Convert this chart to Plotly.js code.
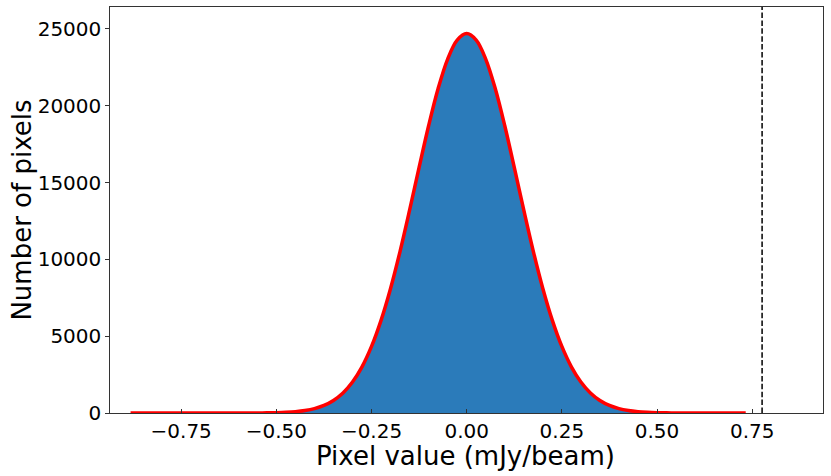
<!DOCTYPE html>
<html>
<head>
<meta charset="utf-8">
<script src="https://cdn.plot.ly/plotly-3.0.1.min.js"></script>
<style>html,body{margin:0;padding:0;background:#fff;}#chart{width:831px;height:476px;}</style>
</head>
<body>
<div id="chart"></div>
<script>
// Histogram of pixel values (bin centres, mJy/beam) and counts
const histX = [-0.6,-0.575,-0.55,-0.525,-0.5,-0.475,-0.45,-0.425,-0.4,-0.375,-0.35,-0.325,-0.3,-0.275,-0.25,-0.225,-0.2,-0.175,-0.15,-0.125,-0.1,-0.075,-0.05,-0.025,0,
  0.025,0.05,0.075,0.1,0.125,0.15,0.175,0.2,0.225,0.25,0.275,0.3,0.325,0.35,0.375,0.4,0.425,0.45,0.475,0.5,0.525,0.55,0.575,0.6];
const histCounts = [1,2,5,11,22,45,86,160,284,488,810,1298,2008,2998,4325,6025,8100,10515,13195,15980,18690,21110,23035,24265,24700,
  24270,23030,21115,18695,15985,13200,10520,8105,6030,4330,3004,2012,1300,812,490,285,160,87,45,22,11,5,2,1];

// Gaussian fit curve (red)
const fitX = [-0.883,-0.8,-0.7,-0.65,-0.6,-0.575,-0.55,-0.525,-0.5,-0.475,-0.45,-0.425,-0.4,-0.375,-0.35,-0.325,-0.3,-0.275,-0.25,-0.225,-0.2,-0.175,-0.15,-0.125,-0.1,-0.075,-0.05,-0.025,0,
  0.025,0.05,0.075,0.1,0.125,0.15,0.175,0.2,0.225,0.25,0.275,0.3,0.325,0.35,0.375,0.4,0.425,0.45,0.475,0.5,0.525,0.55,0.575,0.6,0.65,0.7,0.733];
const fitY = [0,0,0,0,1,2,5,11,23,46,88,162,287,492,815,1304,2015,3006,4333,6032,8109,10527,13203,15986,18698,21119,23040,24273,24700,
  24273,23040,21119,18698,15986,13203,10527,8109,6032,4333,3006,2015,1304,815,492,287,162,88,46,23,11,5,2,1,0,0,0];

// Threshold marker (dashed vertical line)
const thresholdX = [0.776, 0.776];
const thresholdY = [0, 26430];

const xTicks = [-0.75,-0.5,-0.25,0,0.25,0.5,0.75];
const xTickText = ["\u22120.75","\u22120.50","\u22120.25","0.00","0.25","0.50","0.75"];
const yTicks = [0,5000,10000,15000,20000,25000];
const yTickText = ["0","5000","10000","15000","20000","25000"];
const xTitle = "Pixel value (mJy/beam)";
const yTitle = "Number of pixels";

const titleFont = {family: "DejaVu Sans", size: 26, color: "#000"};

const traces = [
  {x: histX, y: histCounts, type: "scatter", mode: "lines", fill: "tozeroy",
   line: {color: "#2b7bba", width: 0, shape: "spline", smoothing: 1}, fillcolor: "#2b7bba", hoverinfo: "skip"},
  {x: fitX, y: fitY, type: "scatter", mode: "lines",
   line: {color: "#ff0000", width: 3.5, shape: "spline", smoothing: 1}},
  {x: thresholdX, y: thresholdY, type: "scatter", mode: "lines",
   line: {color: "#000", width: 1.5, dash: "5.5px,2.4px"}}
];

const layout = {
  width: 831, height: 476,
  margin: {l: 110, r: 8, t: 7, b: 63},
  paper_bgcolor: "#fff", plot_bgcolor: "#fff",
  showlegend: false,
  font: {family: "DejaVu Sans", color: "#000"},
  xaxis: {
    range: [-0.937, 0.936], showgrid: false, zeroline: false,
    tickmode: "array", tickvals: xTicks, ticktext: xTickText,
    ticks: "inside", ticklen: 4.5, tickwidth: 1, tickcolor: "#333",
    showline: true, linecolor: "#333", linewidth: 1.2, mirror: true,
    tickfont: {family: "DejaVu Sans", size: 20, color: "#000"}
  },
  yaxis: {
    range: [0, 26430], showgrid: false, zeroline: false,
    tickmode: "array", tickvals: yTicks, ticktext: yTickText,
    ticks: "outside", ticklen: 3.5, tickwidth: 1, tickcolor: "#333",
    showline: true, linecolor: "#333", linewidth: 1.2, mirror: true,
    tickfont: {family: "DejaVu Sans", size: 20, color: "#000"}
  },
  annotations: [
    {text: xTitle, xref: "paper", yref: "paper", x: 0.499, y: -0.107,
     xanchor: "center", yanchor: "middle", showarrow: false, font: titleFont},
    {text: yTitle, xref: "paper", yref: "paper", x: -0.124, y: 0.5, textangle: -90,
     xanchor: "center", yanchor: "middle", showarrow: false, font: titleFont}
  ]
};

Plotly.newPlot("chart", traces, layout, {staticPlot: true, displayModeBar: false});
</script>
</body>
</html>
